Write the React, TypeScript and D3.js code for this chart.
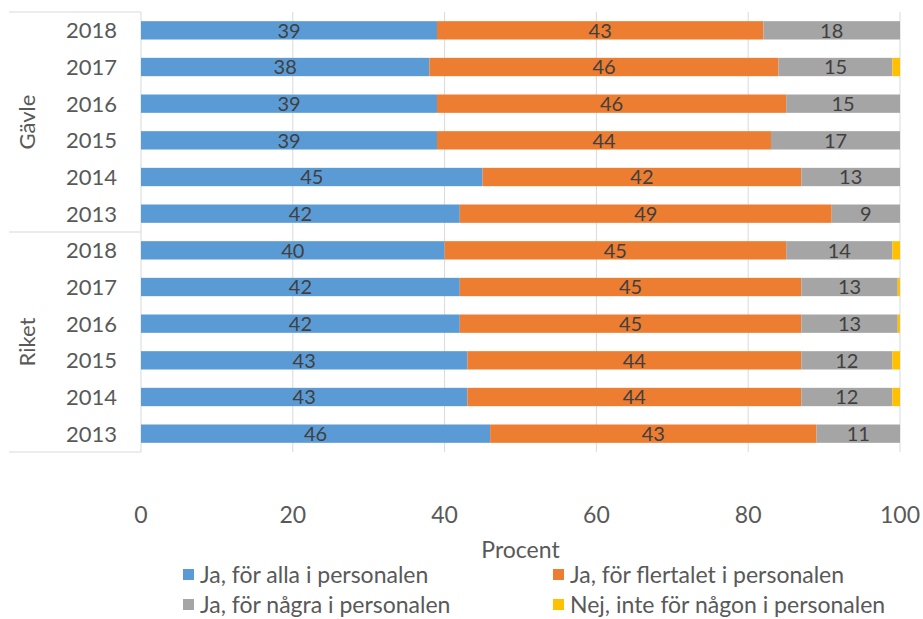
import React, { useEffect, useRef } from 'react';
import * as d3 from 'd3';

const groups = ['Gävle', 'Riket'];
const years = ['2018', '2017', '2016', '2015', '2014', '2013'];
const seriesNames = [
  'Ja, för alla i personalen',
  'Ja, för flertalet i personalen',
  'Ja, för några i personalen',
  'Nej, inte för någon i personalen',
];
const colors = ['#5b9bd5', '#ed7d31', '#a5a5a5', '#ffc000'];

// rows: Gävle 2018..2013, then Riket 2018..2013
const allaValues = [39, 38, 39, 39, 45, 42, 40, 42, 42, 43, 43, 46];
const flertaletValues = [43, 46, 46, 44, 42, 49, 45, 45, 45, 44, 44, 43];
const nagraValues = [18, 15, 15, 17, 13, 9, 14, 12.7, 12.7, 12, 12, 11];
const ingenValues = [0, 1, 0, 0, 0, 0, 1, 0.3, 0.3, 1, 1, 0];
const xTicks = [0, 20, 40, 60, 80, 100];

const FONT = 'Lato, "Open Sans", sans-serif';

export default function App() {
  const ref = useRef<SVGSVGElement | null>(null);

  useEffect(() => {
    document.body.style.margin = '0';
    const svg = d3.select(ref.current);
    svg.selectAll('*').remove();

    const left = 141, right = 900, top = 12, bottom = 452;
    const rows = groups.flatMap((g) => years.map((y) => g + '|' + y));
    const data = rows.map((key, i) => ({
      key,
      year: key.split('|')[1],
      values: [allaValues[i], flertaletValues[i], nagraValues[i], ingenValues[i]],
    }));

    const x = d3.scaleLinear().domain([0, 100]).range([left, right]);
    const y = d3.scaleBand().domain(rows).range([top, bottom]).paddingInner(0.5).paddingOuter(0.25);

    const stack = d3.stack<any, number>().keys([0, 1, 2, 3]).value((d, k) => d.values[k]);
    const stacked = stack(data);

    // gridlines
    svg.append('g').selectAll('line').data(xTicks.slice(1)).enter().append('line')
      .attr('x1', (d) => x(d)).attr('x2', (d) => x(d))
      .attr('y1', top).attr('y2', bottom)
      .attr('stroke', '#d9d9d9').attr('stroke-width', 1);

    // category axis frame
    const frame = svg.append('g').attr('stroke', '#d9d9d9').attr('stroke-width', 1);
    frame.append('line').attr('x1', left).attr('x2', left).attr('y1', top).attr('y2', bottom);
    [top, (top + bottom) / 2, bottom].forEach((yy) => {
      frame.append('line').attr('x1', 9).attr('x2', left).attr('y1', yy).attr('y2', yy);
    });

    // bars
    stacked.forEach((layer, si) => {
      svg.append('g').attr('fill', colors[si]).selectAll('rect').data(layer).enter().append('rect')
        .attr('x', (d) => x(d[0]))
        .attr('width', (d) => x(d[1]) - x(d[0]))
        .attr('y', (d) => y(d.data.key) as number)
        .attr('height', y.bandwidth());
    });

    // data labels (first three series)
    stacked.slice(0, 3).forEach((layer) => {
      svg.append('g').selectAll('text').data(layer).enter().append('text')
        .attr('x', (d) => x((d[0] + d[1]) / 2))
        .attr('y', (d) => (y(d.data.key) as number) + y.bandwidth() / 2)
        .attr('dy', '0.36em')
        .attr('text-anchor', 'middle')
        .attr('font-family', FONT).attr('font-size', 20).attr('fill', '#404040')
        .text((d) => d3.format('.0f')(d[1] - d[0]));
    });

    // year labels
    svg.append('g').selectAll('text').data(data).enter().append('text')
      .attr('x', 117)
      .attr('y', (d) => (y(d.key) as number) + y.bandwidth() / 2)
      .attr('dy', '0.36em')
      .attr('text-anchor', 'end')
      .attr('font-family', FONT).attr('font-size', 22).attr('fill', '#595959')
      .text((d) => d.year);

    // group labels
    groups.forEach((g) => {
      const y0 = y(g + '|' + years[0]) as number;
      const y1 = (y(g + '|' + years[years.length - 1]) as number) + y.bandwidth();
      const cy = (y0 + y1) / 2;
      svg.append('text')
        .attr('transform', 'translate(27,' + cy + ') rotate(-90)')
        .attr('dy', '0.36em')
        .attr('text-anchor', 'middle')
        .attr('font-family', FONT).attr('font-size', 22).attr('fill', '#595959')
        .text(g);
    });

    // x axis labels
    svg.append('g').selectAll('text').data(xTicks).enter().append('text')
      .attr('x', (d) => x(d)).attr('y', 515).attr('dy', '0.36em')
      .attr('text-anchor', 'middle')
      .attr('font-family', FONT).attr('font-size', 23).attr('fill', '#595959')
      .text((d) => d);

    svg.append('text')
      .attr('x', (left + right) / 2).attr('y', 550).attr('dy', '0.36em')
      .attr('text-anchor', 'middle')
      .attr('font-family', FONT).attr('font-size', 23).attr('fill', '#595959')
      .text('Procent');

    // legend
    const legendPos = [[183, 575], [553, 575], [183, 605], [553, 605]];
    seriesNames.forEach((name, i) => {
      const [lx, ly] = legendPos[i];
      svg.append('rect').attr('x', lx).attr('y', ly - 6).attr('width', 11).attr('height', 11).attr('fill', colors[i]);
      svg.append('text')
        .attr('x', lx + 17).attr('y', ly).attr('dy', '0.36em')
        .attr('font-family', FONT).attr('font-size', 23).attr('fill', '#595959')
        .text(name);
    });
  }, []);

  return <svg ref={ref} width={923} height={619} style={{ display: 'block', background: '#fff' }} />;
}
